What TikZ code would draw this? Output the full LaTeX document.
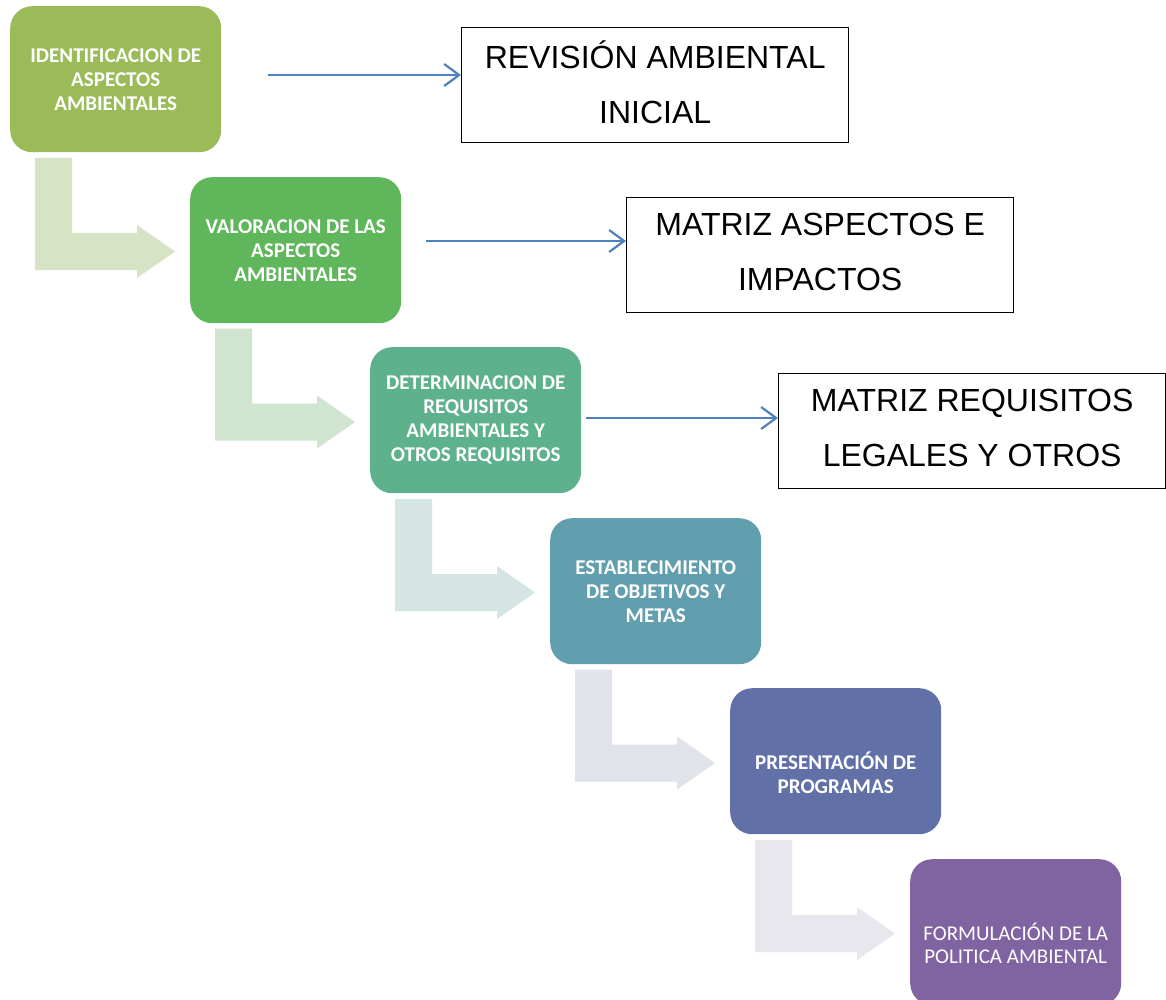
\documentclass[tikz,border=0pt]{standalone}
\usepackage{fontspec}
\setmainfont{Carlito}
\newfontfamily\arialf{Liberation Sans}
\usetikzlibrary{arrows.meta}
\definecolor{c1}{HTML}{9BBB59}
\definecolor{c2}{HTML}{5FB65B}
\definecolor{c3}{HTML}{5DB18D}
\definecolor{c4}{HTML}{619EAE}
\definecolor{c5}{HTML}{6270A8}
\definecolor{c6}{HTML}{8064A2}
\definecolor{a1}{HTML}{D7E3C5}
\definecolor{a2}{HTML}{CFE5CF}
\definecolor{a3}{HTML}{D5E5E3}
\definecolor{a4}{HTML}{E0E3EA}
\definecolor{a5}{HTML}{E9E7EE}
\definecolor{linkblue}{HTML}{4F81BD}
\begin{document}
\begin{tikzpicture}[x=1pt,y=-1pt,
  stage/.style={rounded corners=22pt, minimum width=211pt, minimum height=146pt,
    inner sep=0pt, anchor=north west},
  stagetext/.style={text=white, align=center, inner sep=0pt,
    font=\bfseries\fontsize{21}{24}\selectfont},
  stagelight/.style={text=white, align=center, inner sep=0pt,
    font=\fontsize{21}{23}\selectfont},
  result/.style={draw=black, line width=1.3pt, minimum width=387pt, minimum height=115pt,
    inner sep=0pt, anchor=north west},
  resulttext/.style={align=center, inner sep=0pt,
    font=\arialf\fontsize{32}{55}\selectfont},
  link/.style={draw=linkblue, line width=2.2pt,
    -{Straight Barb[length=15pt,width=22pt,line width=2.2pt]}}
]
\clip (0,0) rectangle (1166,1000);
\fill[white] (0,0) rectangle (1166,1000);

% light bent arrows
\foreach \i/\c in {0/a1,1/a2,2/a3,3/a4,4/a5}{
  \begin{scope}[shift={(180*\i,170.5*\i)}]
    \fill[\c] (35,158) -- (72,158) -- (72,233) -- (137,233) -- (137,225)
      -- (175,251.5) -- (137,278) -- (137,270) -- (35,270) -- cycle;
  \end{scope}
}

% stage boxes
\node[stage, fill=c1] (b1) at (10,6) {};
\node[stage, fill=c2] (b2) at (190,177) {};
\node[stage, fill=c3] (b3) at (370,347) {};
\node[stage, fill=c4] (b4) at (550,518) {};
\node[stage, fill=c5] (b5) at (730,688) {};
\node[stage, fill=c6] (b6) at (910,859) {};

\node[stagetext] (t1) at (b1.center) {IDENTIFICACION DE\\ASPECTOS\\AMBIENTALES};
\node[stagetext] (t2) at (b2.center) {VALORACION DE LAS\\ASPECTOS\\AMBIENTALES};
\node[stagetext] (t3) at (b3.center) {DETERMINACION DE\\REQUISITOS\\AMBIENTALES Y\\OTROS REQUISITOS};
\node[stagetext] (t4) at (b4.center) {ESTABLECIMIENTO\\DE OBJETIVOS Y\\METAS};
\node[stagetext] (t5) at ([yshift=-12pt]b5.center) {PRESENTACIÓN DE\\PROGRAMAS};
\node[stagelight] (t6) at ([yshift=-11pt]b6.center) {FORMULACIÓN DE LA\\POLITICA AMBIENTAL};

% result boxes
\node[result] (r1) at (461,27) {};
\node[result] (r2) at (626,197) {};
\node[result] (r3) at (778,373) {};
\node[resulttext] (q1) at ([yshift=3pt]r1.center) {REVISIÓN AMBIENTAL\\INICIAL};
\node[resulttext] (q2) at ([yshift=3pt]r2.center) {MATRIZ ASPECTOS E\\IMPACTOS};
\node[resulttext] (q3) at ([yshift=3pt]r3.center) {MATRIZ REQUISITOS\\LEGALES Y OTROS};

% blue links
\coordinate (s1) at (268,75);
\coordinate (s2) at (426,241);
\coordinate (s3) at (586,418);
\draw[link] (s1) -- (r1.west |- s1);
\draw[link] (s2) -- (r2.west |- s2);
\draw[link] (s3) -- (r3.west |- s3);
\end{tikzpicture}
\end{document}
